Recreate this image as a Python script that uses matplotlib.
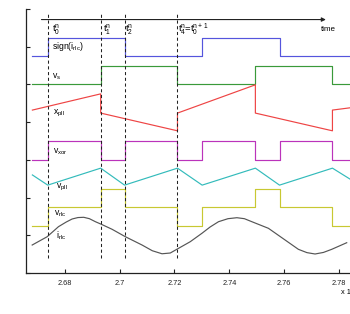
import numpy as np
import matplotlib
matplotlib.use('Agg')
import matplotlib.pyplot as plt

plt.rcParams['font.family'] = ['Liberation Sans', 'DejaVu Sans']
plt.rcParams['mathtext.default'] = 'regular'

# switching instants (x axis, scaled time)
t_n = [2.6738, 2.6931, 2.7018, 2.7211]
t_edges = [2.6682, 2.6738, 2.6931, 2.7018, 2.7211, 2.7301, 2.7495, 2.7583, 2.7776, 2.7840]

sign_t = [2.6682, 2.6738, 2.7018, 2.7301, 2.7583, 2.7840]
sign_y = [5.75, 6.24, 5.75, 6.24, 5.75, 5.75]

vs_t = [2.6682, 2.6931, 2.7211, 2.7495, 2.7776, 2.7840]
vs_y = [5.0, 5.5, 5.0, 5.5, 5.0, 5.0]

xpll_t = [2.6682, 2.6931, 2.6931, 2.7211, 2.7211, 2.7495, 2.7495, 2.7776, 2.7776, 2.7840]
xpll_y = [4.32, 4.75, 4.24, 3.77, 4.24, 4.99, 4.24, 3.77, 4.32, 4.38]

vxor_y = [3.0, 3.5, 3.0, 3.5, 3.0, 3.5, 3.0, 3.5, 3.0, 3.0]
vpll_y = [2.60, 2.33, 2.78, 2.33, 2.78, 2.33, 2.78, 2.33, 2.78, 2.49]
vrlc_y = [1.24, 1.74, 2.24, 1.74, 1.24, 1.74, 2.24, 1.74, 1.24, 1.24]

irlc_t = [2.66813, 2.67359, 2.67771, 2.68050, 2.68269, 2.68480, 2.68692, 2.68900, 2.69118,
          2.69336, 2.69726, 2.70210, 2.70520, 2.70818, 2.71193, 2.71546, 2.71848,
          2.72150, 2.72576, 2.73002, 2.73300, 2.73606, 2.73950, 2.74276, 2.74550, 2.74822,
          2.75426, 2.76034, 2.76518, 2.76830, 2.77126, 2.77430, 2.77734, 2.78280]
irlc_y = [0.742, 0.962, 1.228, 1.350, 1.432, 1.470, 1.477, 1.440, 1.360,
          1.291, 1.159, 0.962, 0.850, 0.742, 0.590, 0.510, 0.530,
          0.655, 0.830, 1.053, 1.220, 1.360, 1.440, 1.466, 1.440, 1.360,
          1.185, 0.875, 0.628, 0.540, 0.504, 0.545, 0.628, 0.803]

xticks = [2.68, 2.70, 2.72, 2.74, 2.76, 2.78]
xticklabels = ['2.68', '2.7', '2.72', '2.74', '2.76', '2.78']

fig = plt.figure(figsize=(3.5, 3.14), dpi=100)
ax = fig.add_axes([25.5/350, 41/314, 324.5/350, 264/314])

lw = 0.85
ax.step(sign_t, sign_y, where='post', color='#5555dd', lw=lw)
ax.step(vs_t, vs_y, where='post', color='#3a9a3a', lw=lw)
ax.plot(xpll_t, xpll_y, color='#ee4444', lw=lw)
ax.step(t_edges, vxor_y, where='post', color='#bb33bb', lw=lw)
ax.plot(t_edges, vpll_y, color='#33bbbb', lw=lw)
ax.step(t_edges, vrlc_y, where='post', color='#c8c832', lw=lw)
ax.plot(irlc_t, irlc_y, color='#555555', lw=lw)

for t in t_n:
    ax.plot([t, t], [0.4, 6.9], color='#222222', lw=0.75, ls=(0, (3, 2.5)))

# time arrow
ax.annotate('', xy=(2.7752, 6.72), xytext=(2.6715, 6.72),
            arrowprops=dict(arrowstyle='-|>', color='#222222', lw=0.8,
                            mutation_scale=6, shrinkA=0, shrinkB=0))

fs = 6.2
ax.text(2.7735, 6.46, 'time', fontsize=5.8, va='center')
ax.text(2.6752, 6.46, r'$t_0^n$', fontsize=6.8, va='center')
ax.text(2.6938, 6.46, r'$t_1^n$', fontsize=6.8, va='center')
ax.text(2.7021, 6.46, r'$t_2^n$', fontsize=6.8, va='center')
ax.text(2.7213, 6.46, r'$t_4^n$=$t_0^{n+1}$', fontsize=6.8, va='center')

ax.text(2.6752, 6.0, r'sign($i_{rlc}$)', fontsize=fs, va='center')
ax.text(2.6755, 5.2, r'$v_s$', fontsize=fs, va='center')
ax.text(2.6757, 4.24, r'$x_{pll}$', fontsize=fs, va='center')
ax.text(2.6757, 3.22, r'$v_{xor}$', fontsize=fs, va='center')
ax.text(2.6768, 2.28, r'$v_{pll}$', fontsize=fs, va='center')
ax.text(2.6760, 1.58, r'$v_{rlc}$', fontsize=fs, va='center')
ax.text(2.6768, 1.0, r'$i_{rlc}$', fontsize=fs, va='center')

ax.set_xlim(2.66569, 2.7840)
ax.set_ylim(0, 7)
ax.set_xticks(xticks)
ax.set_xticklabels(xticklabels)
ax.set_yticks(range(8))
ax.set_yticklabels([])
ax.tick_params(direction='in', length=3, width=0.8, labelsize=5.3, colors='#222222')
ax.tick_params(axis='x', pad=5)
for side in ['top', 'right']:
    ax.spines[side].set_visible(False)
for side in ['left', 'bottom']:
    ax.spines[side].set_linewidth(0.9)
    ax.spines[side].set_color('#222222')
ax.patch.set_visible(False)

fig.text(341/350, 1 - 293/314, 'x 1', fontsize=5.3, va='center', ha='left')

fig.savefig('out.png', dpi=100)
